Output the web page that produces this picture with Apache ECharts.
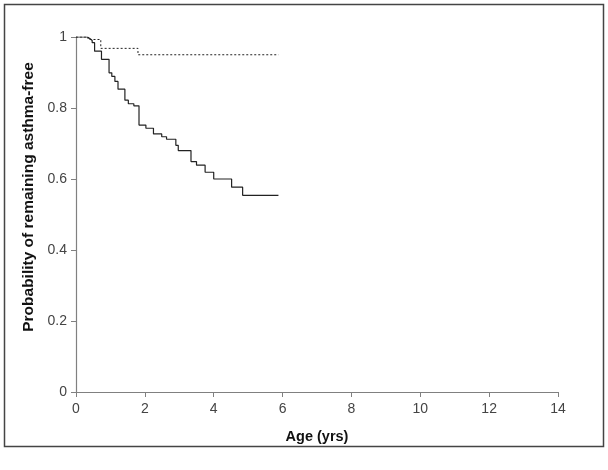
<!DOCTYPE html>
<html>
<head>
<meta charset="utf-8">
<script src="https://cdn.jsdelivr.net/npm/echarts@6/dist/echarts.min.js"></script>
<style>
  html, body { margin: 0; padding: 0; background: #fff; }
  #main { width: 608px; height: 470px; }
</style>
</head>
<body>
<div id="main"></div>
<script>
// x ticks (age, yrs) and y ticks
var xTicks = [0, 2, 4, 6, 8, 10, 12, 14];
var yTicks = [0, 0.2, 0.4, 0.6, 0.8, 1];

// solid curve - times of drops and survival after each drop
var solidAge = [0, 0.33, 0.41, 0.47, 0.54, 0.74, 0.96, 1.04, 1.13, 1.22, 1.42, 1.52, 1.68, 1.83, 2.03, 2.25, 2.49, 2.63, 2.9, 2.97, 3.34, 3.5, 3.75, 4.0, 4.52, 4.84, 5.88];
var solidProb = [1, 0.995, 0.99, 0.984, 0.96, 0.937, 0.899, 0.889, 0.875, 0.853, 0.822, 0.812, 0.806, 0.752, 0.743, 0.727, 0.719, 0.712, 0.695, 0.68, 0.649, 0.639, 0.619, 0.6, 0.577, 0.554, 0.554];

// dotted curve
var dottedAge = [0, 0.35, 0.72, 1.8, 5.88];
var dottedProb = [1, 0.993, 0.968, 0.95, 0.95];

function pairs(xs, ys) {
  var out = [];
  for (var i = 0; i < xs.length; i++) {
    out.push([xs[i], ys[i]]);
  }
  return out;
}

var chart = echarts.init(document.getElementById("main"));
var font = "Liberation Sans, Arial, sans-serif";

var option = {
  backgroundColor: "#fff",
  animation: false,
  graphic: [
    {
      type: "rect",
      shape: { x: 4.5, y: 4.5, width: 599, height: 442 },
      style: { fill: "none", stroke: "#444", lineWidth: 1.5 }
    },
    {
      // y axis title sits a bit above the axis centre in the original
      type: "text",
      x: 29,
      y: 197,
      rotation: Math.PI / 2,
      style: {
        text: "Probability of remaining asthma-free",
        fontFamily: font,
        fontSize: 15.5,
        fontWeight: "bold",
        fill: "#111",
        align: "center",
        verticalAlign: "middle"
      }
    }
  ],
  grid: { left: 76, top: 37, right: 50, bottom: 78 },
  xAxis: {
    type: "value",
    min: xTicks[0],
    max: xTicks[xTicks.length - 1],
    interval: 2,
    name: "Age (yrs)",
    nameLocation: "middle",
    nameGap: 37,
    nameTextStyle: { fontFamily: font, fontSize: 14.5, fontWeight: "bold", color: "#111" },
    axisLine: { lineStyle: { color: "#808080", width: 1.2 } },
    axisTick: { length: 5, lineStyle: { color: "#808080" } },
    axisLabel: { fontFamily: font, fontSize: 14, color: "#444", margin: 10 },
    splitLine: { show: false }
  },
  yAxis: {
    type: "value",
    min: yTicks[0],
    max: yTicks[yTicks.length - 1],
    interval: 0.2,
    axisLine: { show: true, lineStyle: { color: "#808080", width: 1.2 } },
    axisTick: { show: true, length: 5, lineStyle: { color: "#808080" } },
    axisLabel: { fontFamily: font, fontSize: 14, color: "#444", margin: 9 },
    splitLine: { show: false }
  },
  series: [
    {
      type: "line",
      step: "end",
      symbol: "none",
      data: pairs(solidAge, solidProb),
      lineStyle: { color: "#222", width: 1.2 }
    },
    {
      type: "line",
      step: "end",
      symbol: "none",
      data: pairs(dottedAge, dottedProb),
      lineStyle: { color: "#222", width: 1, type: [2, 2] }
    }
  ]
};

chart.setOption(option);
</script>
</body>
</html>
